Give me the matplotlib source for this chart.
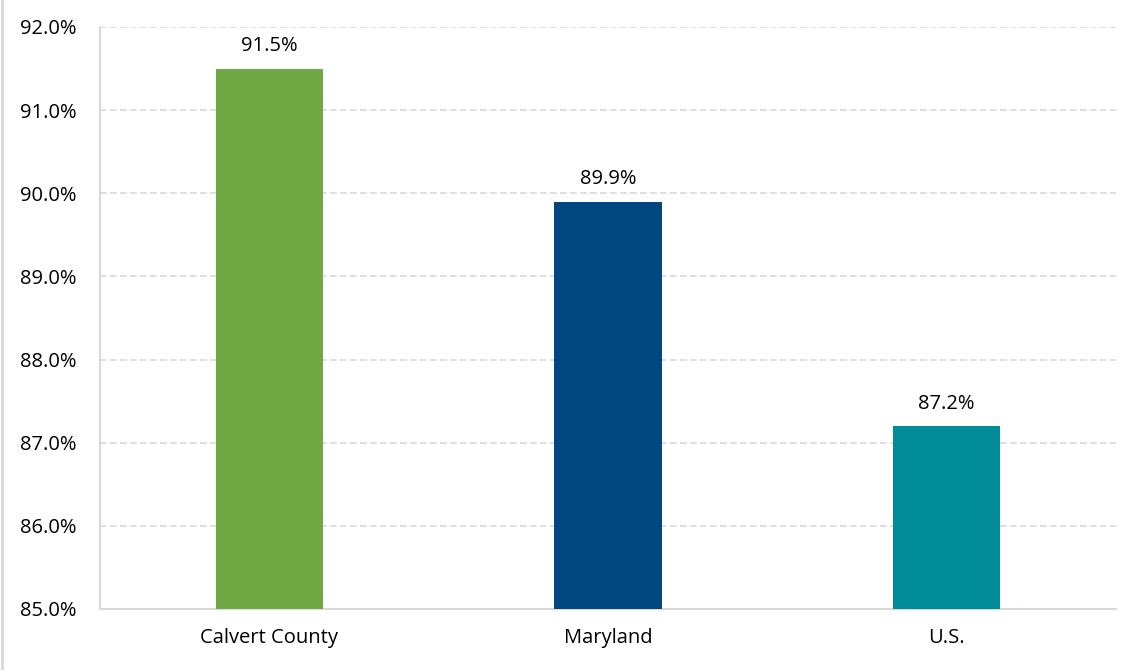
import matplotlib
matplotlib.use("Agg")
import matplotlib.pyplot as plt
from matplotlib.lines import Line2D

categories = ["Calvert County", "Maryland", "U.S."]
values = [91.5, 89.9, 87.2]
colors = ["#70A844", "#00467F", "#008B98"]
yticks = [85, 86, 87, 88, 89, 90, 91, 92]

plt.rcParams['font.family'] = ['Open Sans', 'DejaVu Sans']

fig = plt.figure(figsize=(11.45, 6.70), dpi=100)
ax = fig.add_axes([100/1145, 1 - 609/670, 1016/1145, 582/670])

x = range(len(categories))
bars = ax.bar(x, values, width=0.316, color=colors, bottom=0, zorder=3)
ax.set_ylim(85, 92)
ax.set_xlim(-0.5, 2.5)
ax.set_yticks(yticks)
ax.set_yticklabels([f"{v:.1f}%" for v in yticks], fontsize=14.5)
ax.set_xticks(list(x))
ax.set_xticklabels(categories, fontsize=14.5)
ax.tick_params(axis='x', length=0, pad=14)
ax.tick_params(axis='y', length=0, pad=17)

ax.grid(axis='y', color='#D9D9D9', linestyle=(0, (4, 2)), linewidth=1.2, zorder=0)
for s in ['top', 'right']:
    ax.spines[s].set_visible(False)
ax.spines['left'].set_color('#D9D9D9')
ax.spines['left'].set_linewidth(1.5)
ax.spines['bottom'].set_color('#D9D9D9')
ax.spines['bottom'].set_linewidth(1.5)

for xi, v in zip(x, values):
    ax.annotate(f"{v:.1f}%", (xi, v), xytext=(0, 9), textcoords='offset points',
                ha='center', va='bottom', fontsize=14.5)

fig.add_artist(Line2D([2/1145, 2/1145], [0, 1], color='#D9D9D9', linewidth=2, transform=fig.transFigure))

fig.savefig("out.png", dpi=100)
